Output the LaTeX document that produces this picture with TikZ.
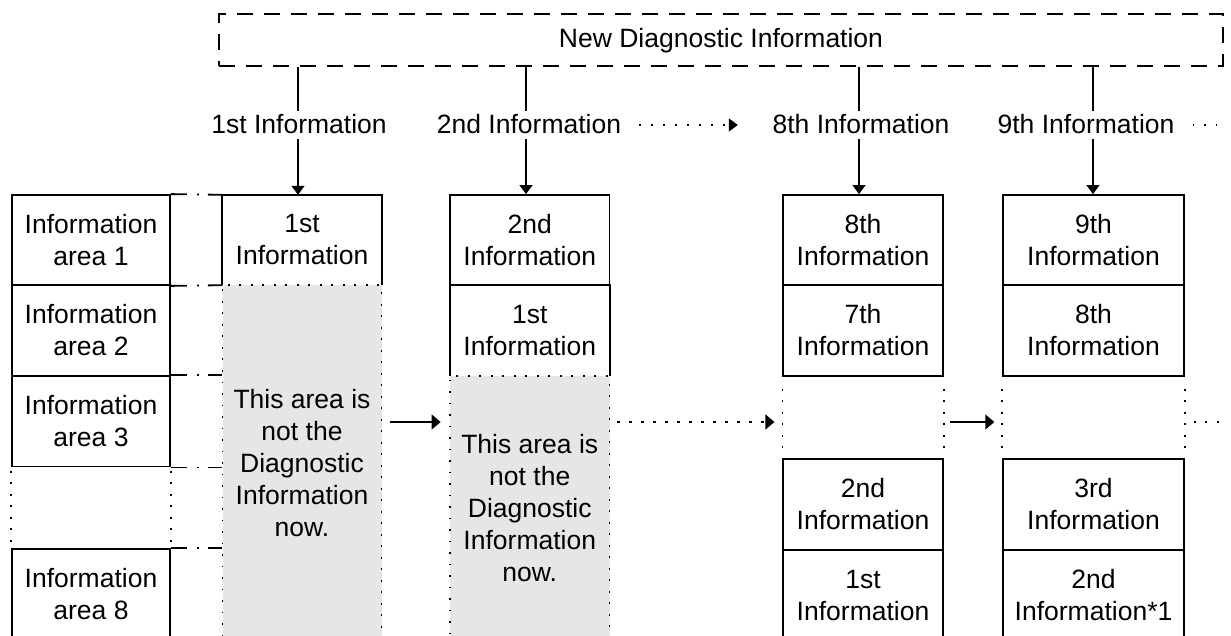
\documentclass[tikz,border=0pt]{standalone}
\usepackage{fontspec}
\setmainfont{Liberation Sans}
\usetikzlibrary{arrows.meta}
\definecolor{graybg}{RGB}{230,230,230}
\begin{document}
\begin{tikzpicture}[x=1pt,y=-1pt,
  fnt/.style={font=\fontsize{26.5}{32}\selectfont},
  cell/.style={fnt, align=center, inner sep=0pt},
  box/.style={cell, draw, line width=1.8pt},
  bord/.style={line width=1.8pt},
  graycell/.style={cell, fill=graybg, draw, line width=1.8pt, dash pattern=on 1.8pt off 9.7pt},
  dotv/.style={line width=1.8pt, dash pattern=on 1.8pt off 9.7pt},
  dashdot/.style={line width=1.8pt, dash pattern=on 16pt off 10pt on 2pt off 9pt},
  arr/.style={line width=1.8pt, -{Triangle[length=9pt,width=15pt]}},
  darr/.style={line width=1.8pt, dash pattern=on 3pt off 9pt, -{Triangle[length=9pt,width=15pt]}},
  ddot/.style={line width=1.8pt, dash pattern=on 2pt off 9.5pt},
  vln/.style={line width=1.5pt},
  varr/.style={line width=1.5pt, -{Triangle[length=9pt,width=13pt]}},
  tdarr/.style={line width=1.4pt, dash pattern=on 1.5pt off 10.5pt, -{Triangle[length=9pt,width=13pt]}},
  tdot/.style={line width=1.4pt, dash pattern=on 1.5pt off 10pt},
  lab/.style={fnt, inner xsep=0pt, inner ysep=0pt, text height=23pt, text depth=5pt},
  topbox/.style={fnt, draw, line width=1.8pt, dash pattern=on 16pt off 11pt, inner sep=0pt, text height=19pt, text depth=3pt, minimum width=1003.4pt, minimum height=52pt}
]
\path[use as bounding box] (0,0) rectangle (1231,636);
\clip (0,0) rectangle (1231,636);
\fill[white] (0,0) rectangle (1231,636);

% top box and labels
\node[topbox] (nd) at (721,40) {New Diagnostic Information};
\node[lab] (l1) at (299,125) {1st Information};
\node[lab] (l2) at (529,125) {2nd Information};
\node[lab] (l8) at (861,125) {8th Information};
\node[lab] (l9) at (1086,125) {9th Information};
\coordinate (v1) at (298,0);
\coordinate (v2) at (526,0);
\coordinate (v8) at (859,0);
\coordinate (v9) at (1093,0);
\coordinate (e9) at (1222,125);
\coordinate (hy) at (0,422);
\coordinate (e422) at (1220,422);

% gray areas
\node[graycell, minimum width=159pt, minimum height=356pt] (c1g) at (302,463) {This area is\\not the\\Diagnostic\\Information\\now.};
\node[graycell, minimum width=159.5pt, minimum height=264pt] (c2g) at (529.75,508) {This area is\\not the\\Diagnostic\\Information\\now.};

% left column
\node[box, minimum width=158pt, minimum height=90pt] (la1) at (91,240) {Information\\area 1};
\node[box, minimum width=158pt, minimum height=91pt] (la2) at (91,330.5) {Information\\area 2};
\node[box, minimum width=158pt, minimum height=90.5pt] (la3) at (91,421.25) {Information\\area 3};
\node[box, minimum width=158pt, minimum height=91pt] (la8) at (91,594.5) {Information\\area 8};
\draw[dotv, shorten <=3.5pt] (la3.south west) -- (la8.north west);
\draw[dotv, shorten <=3.5pt] (la3.south east) -- (la8.north east);

% column 1
\node[cell, minimum width=159pt, minimum height=90pt] (c1a) at (302,240) {1st\\Information};
\draw[bord] (c1a.south west) -- (c1a.north west) -- (c1a.north east) -- (c1a.south east);

% column 2
\node[box, minimum width=159.5pt, minimum height=90pt] (c2a) at (529.75,240) {2nd\\Information};
\node[cell, minimum width=159.5pt, minimum height=91pt] (c2b) at (529.75,330.5) {1st\\Information};
\draw[bord] (c2b.south west) -- (c2b.north west) -- (c2b.north east) -- (c2b.south east);

% column 8
\node[box, minimum width=159.4pt, minimum height=90pt] (c8a) at (863,240) {8th\\Information};
\node[box, minimum width=159.4pt, minimum height=91pt] (c8b) at (863,330.5) {7th\\Information};
\node[box, minimum width=159.4pt, minimum height=91pt] (c8c) at (863,504.5) {2nd\\Information};
\node[box, minimum width=159.4pt, minimum height=91pt] (c8d) at (863,595.5) {1st\\Information};
\draw[dotv, shorten <=12pt, shorten >=4pt] (c8b.south west) -- (c8c.north west);
\draw[dotv, shorten <=12pt, shorten >=4pt] (c8b.south east) -- (c8c.north east);

% column 9
\node[box, minimum width=181.6pt, minimum height=90pt] (c9a) at (1093.5,240) {9th\\Information};
\node[box, minimum width=181.6pt, minimum height=91pt] (c9b) at (1093.5,330.5) {8th\\Information};
\node[box, minimum width=181.6pt, minimum height=91pt] (c9c) at (1093.5,504.5) {3rd\\Information};
\node[box, minimum width=181.6pt, minimum height=91pt] (c9d) at (1093.5,595.5) {2nd\\Information*1};
\draw[dotv, shorten <=12pt, shorten >=4pt] (c9b.south west) -- (c9c.north west);
\draw[dotv, shorten <=12pt, shorten >=4pt] (c9b.south east) -- (c9c.north east);

% dash-dot connectors
\draw[dashdot] (la1.north east) -- (c1a.north west);
\draw[dashdot] (la1.south east) -- (c1a.south west);
\draw[dashdot] (la3.north east) -- (la3.north east -| c1g.west);
\draw[dashdot] (la3.south east) -- (la3.south east -| c1g.west);
\draw[dashdot] (la8.north east) -- (la8.north east -| c1g.west);

% vertical connectors
\draw[vln] (nd.south -| v1) -- (l1.north -| v1);
\draw[varr] (l1.south -| v1) -- (c1a.north -| v1);
\draw[vln] (nd.south -| v2) -- (l2.north -| v2);
\draw[varr] (l2.south -| v2) -- (c2a.north -| v2);
\draw[vln] (nd.south -| v8) -- (l8.north -| v8);
\draw[varr] (l8.south -| v8) -- (c8a.north -| v8);
\draw[vln] (nd.south -| v9) -- (l9.north -| v9);
\draw[varr] (l9.south -| v9) -- (c9a.north -| v9);

% top dotted arrows
\draw[tdarr, shorten <=18pt, shorten >=34.6pt] (l2.east) -- (l8.west);
\draw[tdot, shorten <=18.3pt] (l9.east) -- (e9);

% horizontal arrows
\draw[arr, shorten <=7.5pt, shorten >=8.5pt] (c1g.east |- hy) -- (c2g.west |- hy);
\draw[darr, shorten <=6.5pt, shorten >=8pt] (c2g.east |- hy) -- (c8b.south west |- hy);
\draw[arr, shorten <=6.6pt, shorten >=7.5pt] (c8b.south east |- hy) -- (c9b.south west |- hy);
\draw[ddot, shorten <=8.4pt] (c9b.south east |- hy) -- (e422);
\end{tikzpicture}
\end{document}
